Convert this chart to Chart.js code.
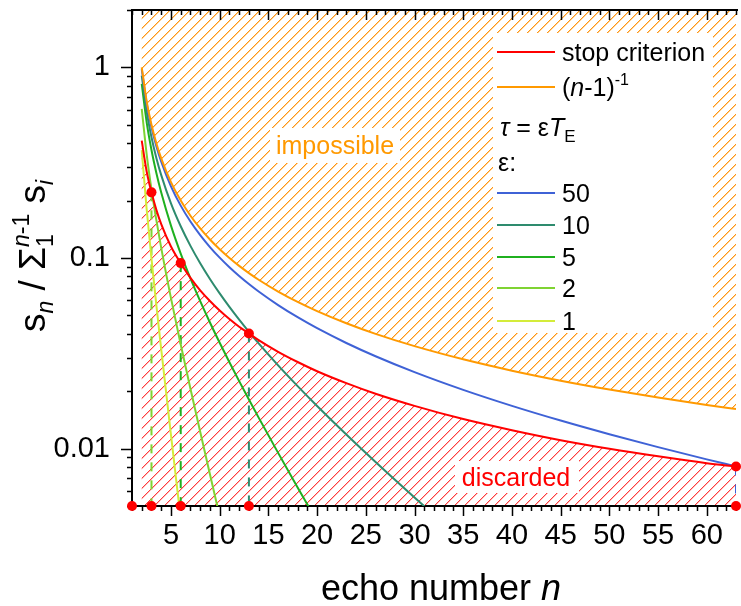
<!DOCTYPE html>
<html><head><meta charset="utf-8">
<script src="https://cdn.jsdelivr.net/npm/chart.js@4.4.0/dist/chart.umd.min.js"></script>
<style>html,body{margin:0;padding:0;background:#fff;}canvas{display:block;}</style>
</head><body>
<canvas id="c" width="741" height="606"></canvas>
<script>
const FONT = '"Liberation Sans", Arial, sans-serif';

// ---- data ----
const xMin = 1, xMax = 63, yMin = 0.005, yMax = 2;
const xMajor = [5,10,15,20,25,30,35,40,45,50,55,60];
const yMajor = [0.01, 0.1, 1];
const yMinor = [0.005,0.006,0.007,0.008,0.009,0.02,0.03,0.04,0.05,0.06,0.07,0.08,0.09,0.2,0.3,0.4,0.5,0.6,0.7,0.8,0.9,2];

const nGrid = [2,2.5,3,3.5,4,5,6,7,8,9,10,11,12,13,14,16,18,20,23,26,30,35,40,45,50,55,60,63];
const inverseVals = [1,0.6667,0.5,0.4,0.3333,0.25,0.2,0.16667,0.14286,0.125,0.11111,0.1,0.090909,0.083333,0.076923,0.066667,0.058824,0.052632,0.045455,0.04,0.034483,0.029412,0.025641,0.022727,0.020408,0.018519,0.016949,0.016129];
const stopVals = [0.413,0.2853,0.221,0.1788,0.1507,0.115,0.094,0.0787,0.0677,0.0595,0.053,0.0478,0.04355,0.0402,0.03708,0.0322,0.02847,0.02547,0.02205,0.0194,0.01676,0.01429,0.01249,0.01107,0.00998,0.00911,0.00839,0.00806];
const eps50 = [0.9802,0.65018,0.48519,0.3862,0.32022,0.23774,0.18827,0.15531,0.13177,0.11412,0.1004,0.089435,0.080467,0.073,0.066686,0.056597,0.048898,0.042833,0.035826,0.030523,0.025191,0.020332,0.01676,0.014034,0.011896,0.010182,0.0087832,0.0080635];
const nEps10 = [2,2.5,3,3.5,4,5,6,7,8,9,10,11,12,13,14,16,18,20,23,26,30,32];
const eps10 = [0.90484,0.58803,0.42982,0.33505,0.272,0.19349,0.14669,0.11575,0.093873,0.07765,0.065198,0.055383,0.047483,0.041016,0.035651,0.027332,0.02127,0.016737,0.011858,0.00851,0.0055411,0.0044893];
const nEps5 = [2,2.5,3,3.5,4,5,6,7,8,9,10,11,12,13,14,16,18,20];
const eps5 = [0.81873,0.51812,0.36856,0.27942,0.22049,0.14791,0.10549,0.078129,0.059331,0.045856,0.035897,0.028372,0.022588,0.018085,0.014544,0.0094977,0.0062584,0.0041479];
const nEps2 = [2,2.5,3,3.5,4,5,6,7,8,9,10];
const eps2 = [0.60653,0.35226,0.22899,0.158,0.11301,0.061585,0.035186,0.020616,0.012252,0.0073411,0.0044202];
const nEps1 = [2,2.5,3,3.5,4,5,6];
const eps1 = [0.36788,0.18156,0.098938,0.056528,0.03312,0.011794,0.0042882];

const stopN = [3, 6, 13, 63];
const stopAt = [0.221, 0.094, 0.0402, 0.00806];
const bottomDotsN = [1, 3, 6, 13, 63];

const epsLabels = ['50','10','5','2','1'];
const colRed = '#FF0000', colOrange = '#FF9900';
const epsColors = ['#3F62D6','#2E8B6E','#1FB01F','#7FD332','#D4EC3A'];
const stopColors = ['#7FD332','#1FB01F','#2E8B6E','#3F62D6'];

const pts = (xs, ys) => xs.map((x, i) => ({x, y: ys[i]}));

const lineBase = {pointRadius:0, borderWidth:2, fill:false, cubicInterpolationMode:'monotone'};
const datasets = [
  {...lineBase, data: pts(nGrid, stopVals), borderColor: colRed, order: 2},
  {...lineBase, data: pts(nGrid, inverseVals), borderColor: colOrange, order: 3},
  {...lineBase, data: pts(nGrid, eps50), borderColor: epsColors[0], order: 4},
  {...lineBase, data: pts(nEps10, eps10), borderColor: epsColors[1], order: 5},
  {...lineBase, data: pts(nEps5, eps5), borderColor: epsColors[2], order: 6},
  {...lineBase, data: pts(nEps2, eps2), borderColor: epsColors[3], order: 7},
  {...lineBase, data: pts(nEps1, eps1), borderColor: epsColors[4], order: 8},
];
stopN.forEach((n, i) => {
  datasets.push({pointRadius:0, borderWidth:2, fill:false, borderDash:[9,9], borderColor: stopColors[i],
    data:[{x:n, y:stopAt[i]}, {x:n, y:yMin}], order: 9});
});
datasets.push({showLine:false, pointRadius:5, pointBorderWidth:0, pointBackgroundColor: colRed, borderColor: colRed,
  clip:false, order: 0,
  data: pts(stopN, stopAt).concat(bottomDotsN.map(n => ({x:n, y:yMin})))});

function fontOf(p){ return (p.i ? 'italic ' : '') + p.s + 'px ' + FONT; }
function rich(c, parts, x, y, align){
  let W = 0;
  for (const p of parts){ c.font = fontOf(p); if (p.adv !== false) W += c.measureText(p.t).width; }
  let cx = align === 'center' ? x - W/2 : x;
  for (const p of parts){
    c.font = fontOf(p); c.fillStyle = p.col || '#000';
    c.fillText(p.t, cx, y + (p.dy || 0));
    if (p.adv !== false) cx += c.measureText(p.t).width;
  }
  return W;
}

// diagonal hatch tile: one full-colour pixel per row plus a lighter neighbour (like an anti-aliased thin line)
function pixelPattern(c, rgb, side){
  const t = document.createElement('canvas'); t.width = 10; t.height = 10;
  const g = t.getContext('2d'); const im = g.createImageData(10, 10);
  const put = (x, y, f) => {
    const k = (y * 10 + x) * 4;
    im.data[k] = Math.round(255 - (255 - rgb[0]) * f);
    im.data[k+1] = Math.round(255 - (255 - rgb[1]) * f);
    im.data[k+2] = Math.round(255 - (255 - rgb[2]) * f);
    im.data[k+3] = 255;
  };
  for (let y = 0; y < 10; y++) for (let x = 0; x < 10; x++) put(x, y, 0);
  for (let i = 0; i < 10; i++){ put(i, 9 - i, 1); put((i + 1) % 10, 9 - i, side); }
  g.putImageData(im, 0, 0);
  return c.createPattern(t, 'repeat');
}

// hatch the region between a dataset's line (library geometry) and the top/bottom of the plot
function hatchRegion(chart, dsIndex, edge, rgb, side){
  const meta = chart.getDatasetMeta(dsIndex);
  const line = meta.dataset, p = meta.data, a = chart.chartArea, c = chart.ctx;
  if (!line || !p.length) return;
  c.save();
  c.beginPath(); c.rect(a.left, a.top, a.right - a.left, a.bottom - a.top); c.clip();
  c.beginPath();
  line.path(c);
  const yE = edge === 'top' ? a.top : a.bottom;
  c.lineTo(p[p.length - 1].x, yE); c.lineTo(p[0].x, yE); c.closePath();
  c.clip();
  c.fillStyle = pixelPattern(c, rgb, side);
  c.fillRect(a.left, a.top, a.right - a.left, a.bottom - a.top);
  c.restore();
}

const decor = {
  id: 'decor',
  beforeDatasetsDraw(chart){
    const c = chart.ctx, a = chart.chartArea, xs = chart.scales.x, ys = chart.scales.y;
    hatchRegion(chart, 0, 'bottom', [255, 60, 60], 0.35);
    hatchRegion(chart, 1, 'top', [255, 150, 20], 0.45);
    c.save();
    c.fillStyle = '#fff';
    c.fillRect(493, 33, 220, 300);
    c.fillRect(270, 128, 130, 35);
    c.fillRect(455, 461, 124, 32);
    // axes
    c.strokeStyle = '#000'; c.lineWidth = 2;
    c.beginPath();
    c.moveTo(a.left, a.top - 1); c.lineTo(a.left, a.bottom + 1);
    c.moveTo(a.left - 1, a.bottom); c.lineTo(a.right + 2, a.bottom);
    c.moveTo(a.left - 1, a.top); c.lineTo(a.right + 2, a.top);
    c.stroke();
    c.lineWidth = 1.5;
    c.beginPath();
    for (let v = xMin; v <= xMax; v++){
      const px = Math.round(xs.getPixelForValue(v)) + 0.5;
      const L = xMajor.includes(v) ? 10 : 5;
      c.moveTo(px, a.bottom); c.lineTo(px, a.bottom + L);
      c.moveTo(px, a.top); c.lineTo(px, a.top + L);
    }
    for (const v of yMajor.concat(yMinor)){
      const py = Math.round(ys.getPixelForValue(v)) + 0.5;
      const L = yMajor.includes(v) ? 11 : 5;
      c.moveTo(a.left, py); c.lineTo(a.left - L, py);
    }
    c.stroke();
    c.restore();
  },
  afterDatasetsDraw(chart){
    const c = chart.ctx;
    c.save();
    c.textBaseline = 'alphabetic';
    c.textAlign = 'left';
    rich(c, [{t:'impossible', s:25, col: colOrange}], 335, 154, 'center');
    rich(c, [{t:'discarded', s:25, col: colRed}], 516, 486, 'center');
    // legend
    const lx0 = 497, lx1 = 555, tx = 562, S = 25;
    const row = (y, col) => { c.strokeStyle = col; c.lineWidth = 2; c.beginPath(); c.moveTo(lx0, y); c.lineTo(lx1, y); c.stroke(); };
    row(52, colRed); rich(c, [{t:'stop criterion', s:S}], tx, 52 + 9);
    row(87, colOrange); rich(c, [{t:'(', s:S}, {t:'n', s:S, i:true}, {t:'-1)', s:S}, {t:'-1', s:16, dy:-11}], tx, 87 + 9);
    rich(c, [{t:'τ', s:S, i:true}, {t:' = ε', s:S}, {t:'T', s:S, i:true}, {t:'E', s:17, dy:6}], 500, 127 + 9);
    rich(c, [{t:'ε:', s:S}], 498, 162 + 9);
    const ry = [193, 225, 257, 288, 321];
    epsLabels.forEach((lab, i) => { row(ry[i], epsColors[i]); rich(c, [{t:lab, s:S}], tx, ry[i] + 9); });
    // x title
    rich(c, [{t:'echo number ', s:36}, {t:'n', s:36, i:true}], 441, 600, 'center');
    // y title
    c.translate(45, 256); c.rotate(-Math.PI/2);
    rich(c, [
      {t:'s', s:37}, {t:'n', s:23, i:true, dy:8}, {t:' / Σ', s:37},
      {t:'1', s:23, dy:8, adv:false}, {t:'n', s:23, i:true, dy:-16}, {t:'-1', s:23, dy:-16},
      {t:' s', s:37}, {t:'i', s:23, i:true, dy:8}
    ], 0, 0, 'center');
    c.restore();
  }
};

new Chart(document.getElementById('c'), {
  type: 'line',
  data: {datasets},
  options: {
    responsive: false, animation: false, devicePixelRatio: 1,
    layout: {padding: {top: 10, right: 1, left: 0, bottom: 0}},
    plugins: {legend: {display: false}, tooltip: {enabled: false}},
    scales: {
      x: {type: 'linear', min: xMin, max: xMax,
        grid: {display: false, drawTicks: false}, border: {display: false},
        afterBuildTicks: s => { s.ticks = xMajor.map(v => ({value: v})); },
        ticks: {font: {family: FONT, size: 29}, color: '#000', padding: 13, maxRotation: 0, autoSkip: false, callback: v => String(v)},
        afterFit: s => { s.height = 100; s.paddingLeft = 0; s.paddingRight = 0; }},
      y: {type: 'logarithmic', min: yMin, max: yMax,
        grid: {display: false, drawTicks: false}, border: {display: false},
        afterBuildTicks: s => { s.ticks = yMajor.map(v => ({value: v})); },
        ticks: {font: {family: FONT, size: 29}, color: '#000', padding: 22, autoSkip: false, callback: v => String(v)},
        afterFit: s => { s.width = 132; s.paddingTop = 0; s.paddingBottom = 0; }}
    }
  },
  plugins: [decor]
});
</script>
</body></html>
